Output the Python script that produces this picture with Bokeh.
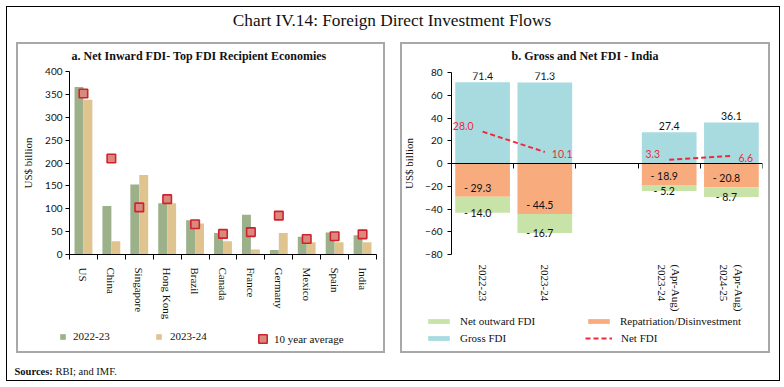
import numpy as np
from bokeh.plotting import figure
from bokeh.models import (Range1d, FixedTicker, ColumnDataSource, LabelSet, Label,
                          Legend, LegendItem, LinearAxis, Spacer)
from bokeh.layouts import column, row
from bokeh.transform import dodge
from bokeh.core.properties import value
from bokeh.embed import file_html
from bokeh.resources import INLINE

# ---------------- data ----------------
chart_title = "Chart IV.14: Foreign Direct Investment Flows"
left_title = "a. Net Inward FDI- Top FDI Recipient Economies"
right_title = "b. Gross and Net FDI - India"
source_head = "Sources:"
source_note = "RBI; and IMF."

economies = ["US", "China", "Singapore", "Hong Kong", "Brazil", "Canada",
             "France", "Germany", "Mexico", "Spain", "India"]
fdi_2022_23 = [366, 106, 153, 112, 75, 47, 87, 10, 39, 48, 42]
fdi_2023_24 = [338, 29, 174, 112, 68, 29, 11, 47, 27, 27, 27]
ten_year_avg = [352, 210, 103, 121, 66, 45, 49, 85, 34, 40, 44]
left_yticks = [0, 50, 100, 150, 200, 250, 300, 350, 400]
left_series = ["2022-23", "2023-24", "10 year average"]

periods = ["2022-23", "2023-24", "", "2023-24\n(Apr-Aug)", "2024-25\n(Apr-Aug)"]
gross_fdi = [71.4, 71.3, None, 27.4, 36.1]
repatriation = [-29.3, -44.5, None, -18.9, -20.8]
net_outward = [-14.0, -16.7, None, -5.2, -8.7]
net_fdi = [28.0, 10.1, None, 3.3, 6.6]
right_yticks = [-80, -60, -40, -20, 0, 20, 40, 60, 80]
right_series = ["Net outward FDI", "Repatriation/Disinvestment", "Gross FDI", "Net FDI"]

# ---------------- styles ----------------
SERIF = "Liberation Serif"
SANS = "Lato"
TXT = "#111111"
C_2223 = "#9CB08A"
C_2324 = "#DFC490"
C_SQ_FILL = "#D98A7E"
C_SQ_LINE = "#D0222E"
C_GROSS = "#A8DBDF"
C_REPAT = "#F8AC7E"
C_NETOUT = "#C8E3A8"
C_NET = "#F0283C"
PANEL_OUTLINE = {"outline": "2px solid #A8A8A8", "outline-offset": "-2px"}


def fmt_neg(v):
    return "- %.1f" % abs(v)


def vertical_label(s):
    # rotated multi-line tick labels stack their lines right-to-left; reverse so the
    # first line reads on the left, as in the reference
    return "\n".join(reversed(s.split("\n")))


def clear_bg(f):
    f.border_fill_color = None
    f.background_fill_color = None
    f.outline_line_color = None


def style_axes(p):
    for ax in p.axis:
        ax.axis_line_color = "black"
        ax.major_tick_line_color = "black"
        ax.minor_tick_line_color = "black"
        ax.major_label_text_color = TXT
        ax.axis_label_text_font = SERIF
        ax.axis_label_text_font_style = "normal"
        ax.axis_label_text_font_size = "11px"
        ax.axis_label_text_color = TXT
    p.xgrid.visible = False
    p.ygrid.visible = False
    clear_bg(p)


def blank(w, h):
    f = figure(width=w, height=h, x_range=Range1d(0, w), y_range=Range1d(0, h),
               output_backend="svg", toolbar_location=None, min_border=0,
               x_axis_location=None, y_axis_location=None)
    f.grid.visible = False
    clear_bg(f)
    return f


def add_legend(f, label, renderer, x, y, gw, gh, standoff, font_size="11px"):
    lg = Legend(items=[LegendItem(label=label, renderers=[renderer])],
                location=(x, y), orientation="horizontal",
                glyph_width=gw, glyph_height=gh, label_height=gh, label_width=10,
                label_standoff=standoff, padding=0, margin=0, spacing=0,
                border_line_color=None, background_fill_alpha=0,
                label_text_font=SERIF, label_text_font_size=font_size,
                label_text_color=TXT, label_text_baseline="middle")
    f.add_layout(lg)


def title_strip(w, h, text, cx, cy):
    f = blank(w, h)
    f.add_layout(Label(x=cx, y=cy, x_units="screen", y_units="screen", text=text,
                       text_align="center", text_baseline="middle", text_font=SERIF,
                       text_font_style="bold", text_font_size="12px", text_color=TXT))
    return f


# ---------------- left panel ----------------
W1 = 369
n1 = len(economies)
idx1 = list(range(n1))
src1 = ColumnDataSource(dict(x=idx1, a=fdi_2022_23, b=fdi_2023_24, avg=ten_year_avg))

p1 = figure(width=W1, height=259,
            x_range=Range1d(-0.5, n1 - 0.5),
            y_range=Range1d(left_yticks[0], left_yticks[-1]),
            output_backend="svg", toolbar_location=None,
            min_border_left=53, min_border_right=9, min_border_top=8, min_border_bottom=59)

bw = 0.32
r_a = p1.vbar(x=dodge("x", -bw / 2, range=p1.x_range), top="a", width=bw, bottom=0,
              source=src1, fill_color=C_2223, line_color=None)
r_b = p1.vbar(x=dodge("x", bw / 2, range=p1.x_range), top="b", width=bw, bottom=0,
              source=src1, fill_color=C_2324, line_color=None)
r_avg = p1.scatter(x="x", y="avg", source=src1, marker="square", size=8.5,
                   fill_color=C_SQ_FILL, line_color=C_SQ_LINE, line_width=1.6)

style_axes(p1)
xa = p1.xaxis[0]
xa.ticker = FixedTicker(ticks=idx1, minor_ticks=[i - 0.5 for i in range(n1 + 1)])
xa.major_label_overrides = {i: e for i, e in enumerate(economies)}
xa.major_label_orientation = "vertical"
xa.major_tick_out = 0
xa.major_tick_in = 0
xa.minor_tick_out = 5
xa.minor_tick_in = 0
xa.major_label_standoff = 8
xa.major_label_text_font = SERIF
xa.major_label_text_font_size = "11px"

ya = p1.yaxis[0]
ya.ticker = FixedTicker(ticks=left_yticks)
ya.minor_tick_line_color = None
ya.major_tick_out = 4
ya.major_tick_in = 0
ya.major_label_standoff = 3
ya.major_label_text_font = SANS
ya.major_label_text_font_size = "10px"
ya.axis_label = "US$ billion"
ya.axis_label_standoff = 8

t1 = title_strip(W1, 21, left_title, 182.5, 8)

# legend strip: hidden copies of the series renderers supply the swatches
l1 = blank(W1, 31)
px_a = l1.vbar(x="x", top="a", width=bw, source=src1, fill_color=C_2223,
               line_color=None, visible=False)
px_b = l1.vbar(x="x", top="b", width=bw, source=src1, fill_color=C_2324,
               line_color=None, visible=False)
px_s = l1.scatter(x="x", y="avg", source=src1, marker="square", size=8.5,
                  fill_color=C_SQ_FILL, line_color=C_SQ_LINE, line_width=1.6, visible=False)
add_legend(l1, left_series[0], px_a, 43, 10.7, 7, 7, 7)
add_legend(l1, left_series[1], px_b, 139, 10.7, 7, 7, 8)
add_legend(l1, left_series[2], px_s, 236, 3.7, 21, 21, 1)

panel1 = column(row(t1), p1, row(l1))
panel1.styles = PANEL_OUTLINE

# ---------------- right panel ----------------
W2 = 370
n2 = len(periods)
idx2 = list(range(n2))
g = np.array(gross_fdi, dtype=float)
rp = np.array(repatriation, dtype=float)
no = np.array(net_outward, dtype=float)
nf = np.array(net_fdi, dtype=float)
src2 = ColumnDataSource(dict(x=idx2, gross=g, rep=rp, rep_base=np.zeros(n2),
                             out_top=rp, out_bot=rp + no, net=nf))

p2 = figure(width=W2, height=251,
            x_range=Range1d(-0.5, n2 - 0.5),
            y_range=Range1d(right_yticks[0], right_yticks[-1]),
            output_backend="svg", toolbar_location=None,
            min_border_left=50, min_border_right=8, min_border_top=9, min_border_bottom=50)

bw2 = 0.88
r_g = p2.vbar(x="x", top="gross", bottom=0, width=bw2, source=src2,
              fill_color=C_GROSS, line_color=None)
r_r = p2.vbar(x="x", top="rep_base", bottom="rep", width=bw2, source=src2,
              fill_color=C_REPAT, line_color=None)
r_o = p2.vbar(x="x", top="out_top", bottom="out_bot", width=bw2, source=src2,
              fill_color=C_NETOUT, line_color=None)
r_n = p2.line(x="x", y="net", source=src2, line_color=C_NET, line_width=2, line_dash="5 3")

style_axes(p2)
xb = p2.xaxis[0]
xb.ticker = FixedTicker(ticks=idx2)
xb.major_label_overrides = {i: vertical_label(s) for i, s in enumerate(periods)}
xb.major_label_orientation = "vertical"
xb.axis_line_color = None
xb.major_tick_line_color = None
xb.minor_tick_line_color = None
xb.major_label_standoff = 4
xb.major_label_text_font = SERIF
xb.major_label_text_font_size = "11px"

zero_axis = LinearAxis(fixed_location=0,
                       ticker=FixedTicker(ticks=[], minor_ticks=[i - 0.5 for i in range(n2 + 1)]),
                       axis_line_color="black", minor_tick_line_color="black",
                       minor_tick_out=5, minor_tick_in=0, major_tick_out=0, major_tick_in=0,
                       major_label_text_font_size="1px", major_label_standoff=0)
p2.add_layout(zero_axis, "below")

yb = p2.yaxis[0]
yb.ticker = FixedTicker(ticks=right_yticks)
yb.minor_tick_line_color = None
yb.major_tick_out = 4
yb.major_tick_in = 0
yb.major_label_standoff = 5
yb.major_label_text_font = SANS
yb.major_label_text_font_size = "10px"
yb.axis_label = "US$ billion"
yb.axis_label_standoff = 7

# data labels
ok = ~np.isnan(g)
xs = [i for i in idx2 if ok[i]]
lab_g = ColumnDataSource(dict(x=xs, y=[g[i] for i in xs], t=["%.1f" % g[i] for i in xs]))
p2.add_layout(LabelSet(x="x", y="y", text="t", source=lab_g, text_align="center",
                       text_baseline="bottom", y_offset=2, text_font=value(SANS),
                       text_font_size="10.5px", text_color=TXT))
lab_r = ColumnDataSource(dict(x=xs, y=[rp[i] for i in xs], t=[fmt_neg(rp[i]) for i in xs]))
p2.add_layout(LabelSet(x="x", y="y", text="t", source=lab_r, text_align="center",
                       text_baseline="middle", x_offset=-5, y_offset=9, text_font=value(SANS),
                       text_font_size="10.5px", text_color=TXT))
lab_o = ColumnDataSource(dict(x=xs, y=[rp[i] + no[i] for i in xs], t=[fmt_neg(no[i]) for i in xs]))
p2.add_layout(LabelSet(x="x", y="y", text="t", source=lab_o, text_align="center",
                       text_baseline="middle", x_offset=-5, y_offset=0, text_font=value(SANS),
                       text_font_size="10.5px", text_color=TXT))

first_in_seg = [i for i in xs if i == 0 or np.isnan(nf[i - 1])]
second_in_seg = [i for i in xs if i not in first_in_seg]
lab_nl = ColumnDataSource(dict(x=first_in_seg, y=[nf[i] for i in first_in_seg],
                               t=["%.1f" % nf[i] for i in first_in_seg]))
lab_nr = ColumnDataSource(dict(x=second_in_seg, y=[nf[i] for i in second_in_seg],
                               t=["%.1f" % nf[i] for i in second_in_seg]))
p2.add_layout(LabelSet(x="x", y="y", text="t", source=lab_nl, text_align="right",
                       text_baseline="middle", x_offset=-9, y_offset=6, text_font=value(SANS),
                       text_font_size="10.5px", text_color=C_NET))
p2.add_layout(LabelSet(x="x", y="y", text="t", source=lab_nr, text_align="left",
                       text_baseline="middle", x_offset=7, y_offset=-2, text_font=value(SANS),
                       text_font_size="10.5px", text_color=C_NET))

t2 = title_strip(W2, 21, right_title, 184.5, 8)

l2 = blank(W2, 39)
px_o = l2.vbar(x="x", top="out_top", bottom="out_bot", width=bw2, source=src2,
               fill_color=C_NETOUT, line_color=None, visible=False)
px_r = l2.vbar(x="x", top="rep_base", bottom="rep", width=bw2, source=src2,
               fill_color=C_REPAT, line_color=None, visible=False)
px_g = l2.vbar(x="x", top="gross", bottom=0, width=bw2, source=src2,
               fill_color=C_GROSS, line_color=None, visible=False)
px_n = l2.line(x="x", y="net", source=src2, line_color=C_NET, line_width=2,
               line_dash="5 3", visible=False)
add_legend(l2, right_series[0], px_o, 25, 25.7, 27, 6, 8)
add_legend(l2, right_series[1], px_r, 185, 25.7, 27, 6, 8)
add_legend(l2, right_series[2], px_g, 25, 9, 27, 6, 8)
add_legend(l2, right_series[3], px_n, 185, 9, 27, 6, 9)

panel2 = column(row(t2), p2, row(l2))
panel2.styles = PANEL_OUTLINE

# ---------------- header / footer ----------------
INNER_W = 774
header = blank(INNER_W, 36)
header.add_layout(Label(x=385.5, y=22, x_units="screen", y_units="screen", text=chart_title,
                        text_align="center", text_baseline="middle", text_font=SERIF,
                        text_font_size="17.3px", text_color=TXT))

footer = blank(INNER_W, 28)
footer.add_layout(Label(x=8, y=10.3, x_units="screen", y_units="screen", text=source_head,
                        text_align="left", text_baseline="middle", text_font=SERIF,
                        text_font_style="bold", text_font_size="10.5px", text_color=TXT))
footer.add_layout(Label(x=49, y=10.3, x_units="screen", y_units="screen", text=source_note,
                        text_align="left", text_baseline="middle", text_font=SERIF,
                        text_font_size="10.5px", text_color=TXT))

body = row(Spacer(width=10, height=311), panel1, Spacer(width=15, height=311), panel2,
           Spacer(width=10, height=311))
inner = column(header, body, footer)
inner.styles = {"outline": "1.5px solid black", "outline-offset": "-1.5px"}
root = row(Spacer(width=6, height=381), column(Spacer(width=774, height=6), inner))

open("out.html", "w").write(file_html(root, INLINE))
